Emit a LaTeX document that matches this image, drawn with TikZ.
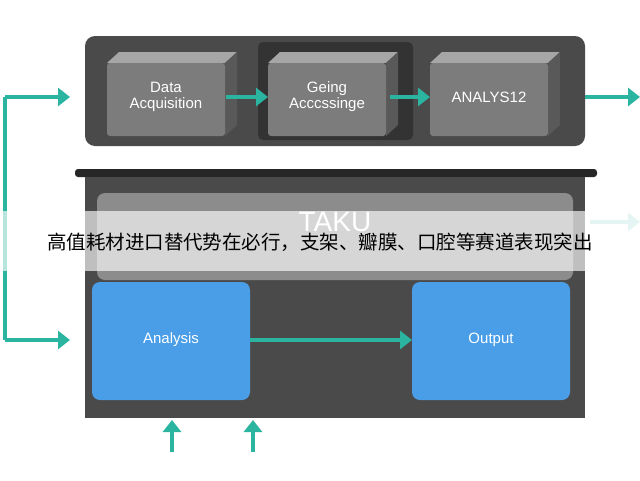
\documentclass[tikz,border=0pt]{standalone}
\usepackage{fontspec}
\setmainfont{Liberation Sans}
\newfontfamily\cjk{Noto Sans CJK SC}
\usetikzlibrary{arrows.meta}
\definecolor{teal}{HTML}{2BB5A0}
\definecolor{panel}{HTML}{4A4A4A}
\definecolor{cube}{HTML}{7C7C7C}
\definecolor{blue}{HTML}{4A9EE8}
\tikzset{
  flow/.style={teal,line width=3.5pt,-{Triangle[length=12pt,width=18pt]}},
  face/.style={text=white,font=\fontsize{15}{16}\selectfont,align=center},
}
\begin{document}
\begin{tikzpicture}[x=1pt,y=-1pt]
    \useasboundingbox (0,0) rectangle (640,480);
    \fill[white] (0,0) rectangle (640,480);
    % Top panel
    \fill[panel,rounded corners=10pt] (85,36) rectangle (585,146);
    \fill[black!80,rounded corners=5pt] (258,42) rectangle (413,140);
    % Cubes
    \foreach \x/\name/\txt in {107/acq/{Data\\Acquisition},268/gei/{Geing\\Acccssinge},430/ana/{ANALYS12}} {
      \fill[black!35] (\x,63) -- (\x+12,52) -- (\x+130,52) -- (\x+118,63) -- cycle;
      \fill[black!65] (\x+118,63) -- (\x+130,52) -- (\x+130,125) -- (\x+118,136) -- cycle;
      \fill[cube,rounded corners=3pt] (\x,63) rectangle (\x+118,136);
      \node[face] (\name) at (\x+59,97) {\txt};
    }
    % Arrows
    \coordinate (in) at (70,97);
    \coordinate (corner) at (5,97);
    \coordinate (low) at (5,340);
    \coordinate (out) at (640,97);
    \draw[flow] (226,97) -- (268,97);
    \draw[flow] (390,97) -- (430,97);
    \draw[flow] (585,97) -- (out);
    \draw[teal,line width=3.5pt] (low) -- (corner);
    \draw[flow] (corner) -- (in);
    \draw[flow] (low) -- (70,340);
    % Lower panel
    \fill[black!85,rounded corners=3pt] (75,169) rectangle (597,177);
    \fill[panel] (85,177) rectangle (585,418);
    \fill[black!45,rounded corners=8pt] (97,193) rectangle (573,280);
    \node[text=white,font=\fontsize{28}{30}\selectfont] (taku) at (335,222) {TAKU};
    \draw[flow,teal!35] (590,222) -- (640,222);
    \fill[blue,rounded corners=8pt] (92,282) rectangle (250,400);
    \node[face] (analysis) at (171,340) {Analysis};
    \fill[blue,rounded corners=8pt] (412,282) rectangle (570,400);
    \node[face] (output) at (491,340) {Output};
    \draw[flow] (250,340) -- (412,340);
    \coordinate (u1) at (172,452);
    \coordinate (u2) at (253,452);
    \draw[flow] (u1) -- (172,420);
    \draw[flow] (u2) -- (253,420);
    % Overlay caption
    \fill[white,opacity=0.65] (0,211) rectangle (640,271);
    \node[font=\cjk\fontsize{19.5}{21}\selectfont] (caption) at (320,242) {高值耗材进口替代势在必行，支架、瓣膜、口腔等赛道表现突出};
\end{tikzpicture}
\end{document}
